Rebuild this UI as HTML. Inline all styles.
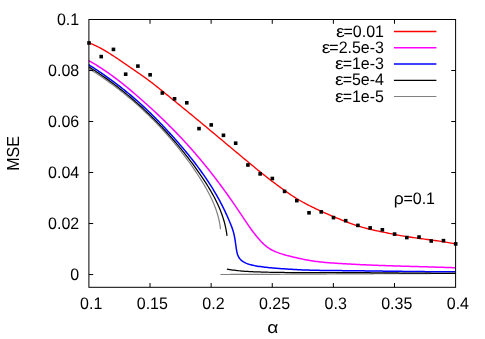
<!DOCTYPE html>
<html><head><meta charset="utf-8"><title>plot</title>
<style>
html,body{margin:0;padding:0;background:#fff;}
body{width:485px;height:339px;overflow:hidden;}
svg{display:block;will-change:transform;}
text{font-family:"Liberation Sans",sans-serif;font-size:16px;fill:#000;text-rendering:geometricPrecision;}
</style></head><body>
<svg width="485" height="339" viewBox="0 0 485 339">
<rect width="485" height="339" fill="#fff"/>
<g fill="none" stroke-linejoin="round">
<path d="M88.70,42.70 L90.10,43.25 L91.49,43.83 L92.88,44.43 L94.25,45.05 L95.61,45.69 L96.96,46.34 L98.31,47.02 L99.64,47.71 L100.97,48.42 L102.29,49.14 L103.60,49.88 L104.90,50.63 L106.20,51.40 L107.49,52.17 L108.77,52.96 L110.05,53.76 L111.32,54.56 L112.58,55.38 L113.84,56.20 L115.10,57.03 L116.35,57.86 L117.59,58.71 L118.84,59.55 L120.08,60.40 L121.32,61.25 L122.56,62.11 L123.80,62.96 L125.03,63.82 L126.27,64.67 L127.51,65.53 L128.75,66.38 L129.99,67.23 L131.23,68.08 L132.48,68.92 L133.72,69.77 L134.96,70.62 L136.20,71.47 L137.44,72.32 L138.68,73.18 L139.92,74.03 L141.15,74.90 L142.38,75.76 L143.60,76.63 L144.83,77.51 L146.04,78.40 L147.25,79.29 L148.46,80.18 L149.66,81.09 L150.86,82.00 L152.05,82.91 L153.24,83.83 L154.43,84.76 L155.61,85.68 L156.79,86.62 L157.97,87.55 L159.15,88.49 L160.32,89.43 L161.49,90.38 L162.67,91.32 L163.84,92.27 L165.00,93.22 L166.17,94.16 L167.34,95.11 L168.51,96.06 L169.68,97.01 L170.84,97.96 L172.01,98.91 L173.18,99.86 L174.34,100.81 L175.51,101.76 L176.68,102.71 L177.84,103.66 L179.01,104.61 L180.17,105.56 L181.34,106.51 L182.50,107.46 L183.67,108.41 L184.83,109.36 L186.00,110.32 L187.16,111.27 L188.32,112.22 L189.49,113.18 L190.65,114.13 L191.81,115.09 L192.97,116.04 L194.13,117.00 L195.29,117.96 L196.45,118.92 L197.61,119.87 L198.77,120.83 L199.93,121.79 L201.09,122.75 L202.25,123.71 L203.40,124.67 L204.56,125.63 L205.72,126.60 L206.87,127.56 L208.03,128.52 L209.19,129.48 L210.34,130.45 L211.50,131.41 L212.65,132.37 L213.81,133.34 L214.96,134.30 L216.12,135.26 L217.27,136.23 L218.42,137.19 L219.58,138.16 L220.73,139.12 L221.89,140.09 L223.04,141.05 L224.19,142.02 L225.35,142.98 L226.50,143.95 L227.65,144.91 L228.81,145.88 L229.96,146.85 L231.11,147.81 L232.27,148.78 L233.42,149.74 L234.58,150.71 L235.73,151.67 L236.88,152.63 L238.04,153.60 L239.19,154.56 L240.35,155.53 L241.50,156.49 L242.66,157.45 L243.81,158.42 L244.97,159.38 L246.13,160.34 L247.28,161.30 L248.44,162.26 L249.60,163.22 L250.76,164.18 L251.92,165.14 L253.08,166.10 L254.24,167.06 L255.40,168.01 L256.57,168.96 L257.73,169.91 L258.90,170.86 L260.07,171.81 L261.24,172.75 L262.42,173.69 L263.59,174.63 L264.77,175.56 L265.95,176.50 L267.13,177.42 L268.32,178.35 L269.51,179.27 L270.70,180.19 L271.90,181.10 L273.09,182.01 L274.29,182.91 L275.50,183.82 L276.70,184.72 L277.91,185.61 L279.12,186.50 L280.34,187.39 L281.56,188.28 L282.77,189.16 L284.00,190.04 L285.22,190.91 L286.45,191.78 L287.68,192.65 L288.92,193.50 L290.16,194.35 L291.41,195.19 L292.67,196.02 L293.93,196.84 L295.19,197.65 L296.47,198.45 L297.75,199.23 L299.05,200.00 L300.35,200.76 L301.65,201.50 L302.97,202.23 L304.29,202.95 L305.62,203.66 L306.95,204.36 L308.29,205.05 L309.63,205.73 L310.98,206.40 L312.33,207.07 L313.68,207.73 L315.04,208.38 L316.40,209.02 L317.76,209.66 L319.12,210.30 L320.49,210.93 L321.86,211.55 L323.23,212.17 L324.60,212.78 L325.98,213.39 L327.35,213.99 L328.73,214.59 L330.11,215.19 L331.50,215.78 L332.88,216.36 L334.27,216.94 L335.66,217.52 L337.05,218.09 L338.44,218.66 L339.84,219.23 L341.24,219.78 L342.63,220.34 L344.04,220.89 L345.44,221.43 L346.84,221.97 L348.25,222.50 L349.66,223.02 L351.08,223.53 L352.49,224.04 L353.91,224.53 L355.34,225.02 L356.77,225.49 L358.20,225.96 L359.63,226.41 L361.07,226.85 L362.51,227.28 L363.96,227.70 L365.41,228.11 L366.86,228.50 L368.32,228.88 L369.78,229.24 L371.24,229.60 L372.70,229.94 L374.17,230.26 L375.64,230.58 L377.11,230.90 L378.58,231.20 L380.06,231.50 L381.53,231.80 L383.01,232.10 L384.48,232.40 L385.96,232.69 L387.43,232.99 L388.91,233.29 L390.38,233.59 L391.86,233.89 L393.33,234.18 L394.81,234.47 L396.28,234.76 L397.76,235.04 L399.24,235.31 L400.72,235.58 L402.20,235.84 L403.68,236.09 L405.17,236.33 L406.65,236.57 L408.14,236.81 L409.62,237.03 L411.11,237.26 L412.60,237.48 L414.09,237.69 L415.58,237.90 L417.07,238.11 L418.56,238.31 L420.05,238.51 L421.54,238.72 L423.03,238.91 L424.53,239.11 L426.02,239.31 L427.51,239.51 L429.00,239.71 L430.49,239.91 L431.99,240.11 L433.48,240.31 L434.97,240.52 L436.46,240.73 L437.95,240.94 L439.44,241.15 L440.92,241.37 L442.41,241.60 L443.90,241.83 L445.38,242.06 L446.87,242.30 L448.35,242.55 L449.83,242.80 L451.32,243.07 L452.80,243.34 L454.27,243.61 L455.75,243.90" stroke="#ff0000" stroke-width="1.35"/>
<path d="M88.70,60.70 L90.02,61.43 L91.34,62.17 L92.65,62.92 L93.95,63.67 L95.25,64.44 L96.54,65.22 L97.82,66.01 L99.10,66.81 L100.37,67.62 L101.63,68.43 L102.89,69.26 L104.14,70.09 L105.38,70.93 L106.62,71.78 L107.85,72.64 L109.08,73.50 L110.31,74.37 L111.52,75.25 L112.74,76.14 L113.95,77.03 L115.15,77.93 L116.35,78.84 L117.54,79.75 L118.73,80.67 L119.92,81.59 L121.10,82.52 L122.28,83.45 L123.45,84.39 L124.62,85.34 L125.79,86.29 L126.95,87.24 L128.11,88.20 L129.27,89.16 L130.42,90.13 L131.57,91.10 L132.72,92.07 L133.86,93.04 L135.01,94.02 L136.15,95.00 L137.29,95.99 L138.42,96.98 L139.56,97.96 L140.69,98.96 L141.82,99.95 L142.95,100.94 L144.07,101.94 L145.20,102.94 L146.32,103.95 L147.43,104.95 L148.55,105.96 L149.67,106.97 L150.78,107.99 L151.89,109.00 L152.99,110.02 L154.10,111.04 L155.20,112.07 L156.30,113.09 L157.39,114.12 L158.49,115.16 L159.58,116.19 L160.67,117.23 L161.75,118.27 L162.84,119.31 L163.92,120.36 L164.99,121.41 L166.07,122.46 L167.14,123.51 L168.21,124.57 L169.28,125.63 L170.34,126.69 L171.40,127.76 L172.46,128.83 L173.51,129.90 L174.56,130.97 L175.61,132.05 L176.66,133.13 L177.70,134.22 L178.74,135.30 L179.77,136.40 L180.81,137.49 L181.84,138.59 L182.86,139.68 L183.89,140.79 L184.91,141.89 L185.92,143.00 L186.93,144.11 L187.94,145.23 L188.95,146.35 L189.95,147.47 L190.95,148.59 L191.95,149.72 L192.95,150.85 L193.94,151.98 L194.92,153.11 L195.91,154.25 L196.89,155.39 L197.86,156.54 L198.84,157.68 L199.81,158.83 L200.77,159.99 L201.74,161.14 L202.70,162.30 L203.66,163.46 L204.61,164.62 L205.56,165.79 L206.51,166.96 L207.45,168.13 L208.39,169.30 L209.33,170.48 L210.26,171.66 L211.19,172.84 L212.12,174.02 L213.04,175.21 L213.96,176.40 L214.87,177.59 L215.79,178.79 L216.70,179.98 L217.60,181.18 L218.51,182.38 L219.41,183.59 L220.30,184.79 L221.20,186.00 L222.09,187.21 L222.98,188.43 L223.86,189.64 L224.74,190.86 L225.62,192.08 L226.50,193.30 L227.37,194.52 L228.24,195.75 L229.11,196.98 L229.98,198.21 L230.84,199.44 L231.70,200.67 L232.56,201.90 L233.42,203.14 L234.27,204.38 L235.13,205.62 L235.98,206.86 L236.82,208.10 L237.67,209.34 L238.51,210.59 L239.36,211.84 L240.20,213.08 L241.04,214.33 L241.87,215.58 L242.71,216.84 L243.54,218.09 L244.38,219.34 L245.21,220.59 L246.05,221.84 L246.89,223.09 L247.73,224.34 L248.58,225.58 L249.44,226.81 L250.30,228.04 L251.17,229.27 L252.05,230.48 L252.95,231.69 L253.85,232.89 L254.76,234.08 L255.69,235.26 L256.64,236.43 L257.60,237.59 L258.58,238.73 L259.58,239.86 L260.60,240.98 L261.64,242.07 L262.71,243.14 L263.80,244.19 L264.92,245.19 L266.08,246.16 L267.26,247.08 L268.48,247.95 L269.74,248.77 L271.03,249.53 L272.36,250.25 L273.71,250.91 L275.09,251.53 L276.48,252.11 L277.89,252.65 L279.32,253.17 L280.75,253.65 L282.18,254.11 L283.62,254.54 L285.07,254.95 L286.52,255.35 L287.97,255.73 L289.43,256.10 L290.89,256.46 L292.35,256.80 L293.82,257.15 L295.28,257.49 L296.75,257.83 L298.21,258.16 L299.68,258.49 L301.15,258.82 L302.62,259.13 L304.09,259.44 L305.56,259.74 L307.04,260.02 L308.52,260.29 L310.00,260.55 L311.48,260.79 L312.97,261.01 L314.46,261.22 L315.95,261.42 L317.44,261.60 L318.94,261.78 L320.43,261.94 L321.93,262.09 L323.43,262.24 L324.92,262.38 L326.42,262.51 L327.92,262.64 L329.42,262.76 L330.92,262.88 L332.42,262.99 L333.92,263.10 L335.42,263.20 L336.92,263.30 L338.42,263.40 L339.92,263.49 L341.42,263.59 L342.92,263.68 L344.42,263.77 L345.92,263.86 L347.42,263.94 L348.92,264.03 L350.42,264.11 L351.92,264.19 L353.42,264.27 L354.92,264.35 L356.43,264.42 L357.93,264.50 L359.43,264.57 L360.93,264.64 L362.43,264.71 L363.93,264.78 L365.44,264.85 L366.94,264.92 L368.44,264.98 L369.94,265.04 L371.44,265.11 L372.95,265.17 L374.45,265.23 L375.95,265.28 L377.45,265.34 L378.96,265.40 L380.46,265.45 L381.96,265.51 L383.46,265.56 L384.97,265.61 L386.47,265.67 L387.97,265.72 L389.48,265.77 L390.98,265.82 L392.48,265.87 L393.98,265.91 L395.49,265.96 L396.99,266.01 L398.49,266.05 L400.00,266.10 L401.50,266.15 L403.00,266.19 L404.51,266.23 L406.01,266.28 L407.51,266.32 L409.02,266.36 L410.52,266.41 L412.02,266.45 L413.53,266.49 L415.03,266.54 L416.53,266.58 L418.03,266.62 L419.54,266.66 L421.04,266.70 L422.54,266.75 L424.05,266.79 L425.55,266.83 L427.05,266.87 L428.56,266.92 L430.06,266.96 L431.56,267.00 L433.06,267.04 L434.57,267.09 L436.07,267.13 L437.57,267.18 L439.07,267.22 L440.58,267.27 L442.08,267.31 L443.58,267.36 L445.08,267.40 L446.59,267.45 L448.09,267.50 L449.59,267.55 L451.09,267.60 L452.60,267.65 L454.10,267.70 L455.60,267.75" stroke="#ff00ff" stroke-width="1.5"/>
<path d="M88.70,64.70 L89.96,65.51 L91.23,66.32 L92.49,67.14 L93.74,67.96 L95.00,68.79 L96.25,69.62 L97.50,70.45 L98.75,71.29 L99.99,72.13 L101.23,72.98 L102.47,73.83 L103.71,74.69 L104.94,75.55 L106.17,76.41 L107.40,77.28 L108.62,78.15 L109.84,79.03 L111.06,79.91 L112.27,80.80 L113.48,81.69 L114.69,82.59 L115.89,83.49 L117.09,84.40 L118.29,85.31 L119.48,86.22 L120.67,87.14 L121.85,88.07 L123.03,89.00 L124.21,89.93 L125.38,90.87 L126.55,91.82 L127.71,92.77 L128.87,93.72 L130.03,94.68 L131.18,95.65 L132.32,96.62 L133.47,97.60 L134.60,98.58 L135.74,99.56 L136.87,100.56 L137.99,101.55 L139.11,102.55 L140.23,103.56 L141.34,104.57 L142.45,105.59 L143.55,106.61 L144.65,107.63 L145.74,108.66 L146.83,109.69 L147.92,110.73 L149.01,111.77 L150.09,112.82 L151.16,113.87 L152.23,114.92 L153.30,115.98 L154.37,117.04 L155.43,118.11 L156.49,119.18 L157.54,120.25 L158.59,121.32 L159.64,122.40 L160.68,123.49 L161.72,124.57 L162.76,125.66 L163.79,126.76 L164.82,127.85 L165.85,128.95 L166.87,130.06 L167.89,131.16 L168.91,132.27 L169.93,133.38 L170.94,134.49 L171.95,135.61 L172.96,136.73 L173.96,137.85 L174.96,138.97 L175.96,140.10 L176.95,141.23 L177.94,142.36 L178.93,143.50 L179.91,144.64 L180.89,145.78 L181.87,146.92 L182.84,148.07 L183.81,149.22 L184.78,150.37 L185.74,151.53 L186.70,152.69 L187.65,153.85 L188.60,155.01 L189.54,156.18 L190.48,157.36 L191.42,158.53 L192.35,159.71 L193.27,160.90 L194.20,162.08 L195.11,163.28 L196.02,164.47 L196.93,165.67 L197.83,166.87 L198.73,168.08 L199.62,169.29 L200.50,170.50 L201.38,171.72 L202.25,172.94 L203.12,174.17 L203.98,175.40 L204.84,176.64 L205.69,177.88 L206.53,179.12 L207.37,180.37 L208.20,181.62 L209.03,182.88 L209.85,184.14 L210.66,185.41 L211.46,186.68 L212.26,187.95 L213.04,189.23 L213.83,190.52 L214.60,191.81 L215.36,193.10 L216.12,194.40 L216.87,195.70 L217.61,197.01 L218.34,198.32 L219.07,199.64 L219.78,200.96 L220.48,202.29 L221.18,203.62 L221.87,204.96 L222.55,206.30 L223.22,207.64 L223.88,208.99 L224.53,210.35 L225.18,211.70 L225.81,213.07 L226.44,214.43 L227.06,215.80 L227.67,217.17 L228.28,218.54 L228.87,219.92 L229.46,221.31 L230.04,222.69 L230.61,224.09 L231.17,225.48 L231.71,226.89 L232.23,228.30 L232.72,229.72 L233.17,231.15 L233.58,232.60 L233.94,234.05 L234.27,235.52 L234.56,237.00 L234.82,238.48 L235.06,239.96 L235.28,241.45 L235.49,242.94 L235.70,244.42 L235.91,245.91 L236.12,247.39 L236.35,248.88 L236.60,250.36 L236.88,251.85 L237.21,253.33 L237.64,254.78 L238.19,256.17 L238.91,257.49 L239.79,258.71 L240.82,259.82 L241.96,260.81 L243.19,261.68 L244.49,262.44 L245.84,263.10 L247.23,263.67 L248.65,264.16 L250.10,264.59 L251.56,264.96 L253.03,265.30 L254.51,265.61 L255.99,265.89 L257.47,266.15 L258.96,266.39 L260.44,266.61 L261.93,266.82 L263.42,267.01 L264.91,267.19 L266.40,267.36 L267.89,267.52 L269.39,267.67 L270.88,267.81 L272.38,267.95 L273.87,268.08 L275.37,268.20 L276.87,268.32 L278.37,268.44 L279.87,268.55 L281.37,268.66 L282.87,268.76 L284.37,268.86 L285.87,268.96 L287.37,269.06 L288.87,269.16 L290.37,269.25 L291.87,269.34 L293.37,269.42 L294.87,269.51 L296.37,269.59 L297.87,269.66 L299.37,269.74 L300.87,269.81 L302.37,269.88 L303.87,269.94 L305.37,270.00 L306.87,270.05 L308.37,270.11 L309.87,270.16 L311.38,270.20 L312.88,270.24 L314.38,270.28 L315.88,270.31 L317.38,270.34 L318.88,270.37 L320.39,270.40 L321.89,270.42 L323.39,270.44 L324.89,270.46 L326.40,270.48 L327.90,270.50 L329.40,270.51 L330.90,270.52 L332.41,270.54 L333.91,270.55 L335.41,270.56 L336.91,270.57 L338.42,270.59 L339.92,270.60 L341.42,270.61 L342.92,270.63 L344.43,270.64 L345.93,270.65 L347.43,270.67 L348.93,270.69 L350.44,270.70 L351.94,270.72 L353.44,270.73 L354.94,270.75 L356.45,270.77 L357.95,270.79 L359.45,270.81 L360.95,270.82 L362.46,270.84 L363.96,270.86 L365.46,270.88 L366.96,270.90 L368.47,270.92 L369.97,270.94 L371.47,270.96 L372.97,270.98 L374.47,271.00 L375.98,271.02 L377.48,271.04 L378.98,271.06 L380.48,271.08 L381.99,271.11 L383.49,271.13 L384.99,271.15 L386.49,271.17 L387.99,271.19 L389.50,271.21 L391.00,271.23 L392.50,271.25 L394.00,271.27 L395.51,271.29 L397.01,271.31 L398.51,271.33 L400.01,271.35 L401.51,271.37 L403.02,271.39 L404.52,271.41 L406.02,271.43 L407.52,271.44 L409.02,271.46 L410.53,271.48 L412.03,271.50 L413.53,271.51 L415.03,271.53 L416.54,271.55 L418.04,271.56 L419.54,271.58 L421.04,271.59 L422.55,271.61 L424.05,271.62 L425.55,271.63 L427.05,271.65 L428.55,271.66 L430.06,271.67 L431.56,271.68 L433.06,271.69 L434.56,271.70 L436.07,271.71 L437.57,271.72 L439.07,271.72 L440.57,271.73 L442.08,271.74 L443.58,271.74 L445.08,271.74 L446.58,271.75 L448.09,271.75 L449.59,271.75 L451.09,271.75 L452.59,271.75 L454.10,271.75 L455.60,271.75" stroke="#0000ff" stroke-width="1.5"/>
<path d="M88.70,68.50 L89.98,69.29 L91.26,70.10 L92.53,70.90 L93.81,71.71 L95.07,72.53 L96.34,73.36 L97.60,74.19 L98.86,75.02 L100.11,75.86 L101.36,76.71 L102.60,77.56 L103.85,78.42 L105.09,79.28 L106.32,80.15 L107.55,81.03 L108.78,81.91 L110.00,82.79 L111.22,83.68 L112.44,84.58 L113.65,85.48 L114.86,86.39 L116.06,87.30 L117.27,88.22 L118.46,89.14 L119.66,90.07 L120.84,91.00 L122.03,91.94 L123.21,92.88 L124.39,93.83 L125.56,94.79 L126.73,95.74 L127.89,96.71 L129.05,97.68 L130.21,98.65 L131.36,99.63 L132.51,100.61 L133.65,101.60 L134.79,102.59 L135.93,103.59 L137.06,104.59 L138.19,105.60 L139.31,106.61 L140.43,107.63 L141.54,108.65 L142.65,109.68 L143.76,110.71 L144.86,111.75 L145.95,112.79 L147.05,113.83 L148.13,114.88 L149.22,115.93 L150.30,116.99 L151.37,118.05 L152.44,119.12 L153.50,120.19 L154.56,121.27 L155.62,122.35 L156.67,123.43 L157.72,124.52 L158.76,125.61 L159.80,126.71 L160.83,127.81 L161.86,128.91 L162.88,130.02 L163.90,131.14 L164.91,132.25 L165.92,133.37 L166.92,134.50 L167.92,135.63 L168.92,136.76 L169.91,137.90 L170.89,139.04 L171.87,140.18 L172.84,141.33 L173.81,142.49 L174.78,143.64 L175.74,144.80 L176.69,145.97 L177.64,147.14 L178.59,148.31 L179.53,149.49 L180.46,150.67 L181.39,151.86 L182.32,153.05 L183.24,154.24 L184.15,155.44 L185.06,156.65 L185.97,157.85 L186.87,159.06 L187.76,160.28 L188.65,161.50 L189.53,162.73 L190.41,163.96 L191.29,165.19 L192.16,166.43 L193.02,167.67 L193.88,168.92 L194.74,170.17 L195.58,171.43 L196.43,172.69 L197.27,173.96 L198.10,175.23 L198.93,176.51 L199.75,177.79 L200.57,179.07 L201.38,180.36 L202.18,181.66 L202.98,182.96 L203.76,184.27 L204.54,185.58 L205.30,186.89 L206.06,188.22 L206.81,189.54 L207.54,190.88 L208.26,192.21 L208.97,193.56 L209.66,194.91 L210.34,196.26 L211.00,197.63 L211.65,198.99 L212.29,200.37 L212.90,201.75 L213.50,203.13 L214.08,204.53 L214.64,205.93 L215.18,207.33 L215.70,208.74 L216.20,210.16 L216.68,211.59 L217.13,213.02 L217.56,214.46 L217.97,215.91 L218.36,217.36 L218.72,218.82 L219.06,220.29 L219.37,221.76 L219.65,223.25 L219.90,224.74 L220.13,226.23 L220.33,227.74 L220.50,229.25" stroke="#808080" stroke-width="1.2"/>
<path d="M220.40,274.50 L221.91,274.50 L223.42,274.49 L224.92,274.49 L226.43,274.49 L227.94,274.48 L229.45,274.48 L230.95,274.47 L232.46,274.47 L233.97,274.46 L235.48,274.46 L236.98,274.46 L238.49,274.45 L240.00,274.45 L241.51,274.44 L243.02,274.44 L244.52,274.43 L246.03,274.42 L247.54,274.42 L249.05,274.41 L250.55,274.41 L252.06,274.40 L253.57,274.40 L255.08,274.39 L256.58,274.38 L258.09,274.38 L259.60,274.37 L261.11,274.36 L262.62,274.36 L264.12,274.35 L265.63,274.34 L267.14,274.34 L268.65,274.33 L270.15,274.32 L271.66,274.32 L273.17,274.31 L274.68,274.30 L276.18,274.29 L277.69,274.29 L279.20,274.28 L280.71,274.27 L282.22,274.26 L283.72,274.26 L285.23,274.25 L286.74,274.24 L288.25,274.23 L289.75,274.23 L291.26,274.22 L292.77,274.21 L294.28,274.20 L295.78,274.19 L297.29,274.19 L298.80,274.18 L300.31,274.17 L301.82,274.16 L303.32,274.15 L304.83,274.14 L306.34,274.14 L307.85,274.13 L309.35,274.12 L310.86,274.11 L312.37,274.10 L313.88,274.09 L315.38,274.09 L316.89,274.08 L318.40,274.07 L319.91,274.06 L321.42,274.05 L322.92,274.04 L324.43,274.04 L325.94,274.03 L327.45,274.02 L328.95,274.01 L330.46,274.00 L331.97,273.99 L333.48,273.99 L334.98,273.98 L336.49,273.97 L338.00,273.96 L339.51,273.95 L341.02,273.94 L342.52,273.94 L344.03,273.93 L345.54,273.92 L347.05,273.91 L348.55,273.90 L350.06,273.90 L351.57,273.89 L353.08,273.88 L354.58,273.87 L356.09,273.86 L357.60,273.86 L359.11,273.85 L360.62,273.84 L362.12,273.83 L363.63,273.82 L365.14,273.82 L366.65,273.81 L368.15,273.80 L369.66,273.79 L371.17,273.79 L372.68,273.78 L374.18,273.77 L375.69,273.76 L377.20,273.76 L378.71,273.75 L380.22,273.74 L381.72,273.73 L383.23,273.73 L384.74,273.72 L386.25,273.71 L387.75,273.71 L389.26,273.70 L390.77,273.69 L392.28,273.68 L393.78,273.68 L395.29,273.67 L396.80,273.66 L398.31,273.66 L399.82,273.65 L401.32,273.64 L402.83,273.64 L404.34,273.63 L405.85,273.62 L407.35,273.62 L408.86,273.61 L410.37,273.61 L411.88,273.60 L413.38,273.59 L414.89,273.59 L416.40,273.58 L417.91,273.58 L419.42,273.57 L420.92,273.56 L422.43,273.56 L423.94,273.55 L425.45,273.55 L426.95,273.54 L428.46,273.54 L429.97,273.53 L431.48,273.52 L432.98,273.52 L434.49,273.51 L436.00,273.51 L437.51,273.50 L439.02,273.50 L440.52,273.49 L442.03,273.49 L443.54,273.49 L445.05,273.48 L446.55,273.48 L448.06,273.47 L449.57,273.47 L451.08,273.46 L452.58,273.46 L454.09,273.45 L455.60,273.45" stroke="#808080" stroke-width="1.2"/>
<path d="M88.70,66.75 L89.98,67.55 L91.25,68.36 L92.53,69.18 L93.79,70.00 L95.06,70.82 L96.32,71.65 L97.58,72.49 L98.83,73.33 L100.08,74.18 L101.33,75.03 L102.57,75.89 L103.81,76.76 L105.05,77.62 L106.28,78.50 L107.51,79.38 L108.73,80.26 L109.95,81.15 L111.17,82.05 L112.38,82.95 L113.59,83.86 L114.80,84.77 L116.00,85.68 L117.20,86.60 L118.39,87.53 L119.58,88.46 L120.77,89.39 L121.95,90.33 L123.13,91.28 L124.31,92.23 L125.48,93.18 L126.65,94.14 L127.81,95.11 L128.97,96.08 L130.12,97.05 L131.28,98.03 L132.43,99.01 L133.57,100.00 L134.71,100.99 L135.85,101.99 L136.98,102.99 L138.11,104.00 L139.23,105.01 L140.35,106.02 L141.47,107.04 L142.58,108.06 L143.69,109.09 L144.79,110.12 L145.90,111.16 L146.99,112.20 L148.08,113.24 L149.17,114.29 L150.26,115.34 L151.34,116.40 L152.41,117.46 L153.49,118.53 L154.55,119.59 L155.62,120.67 L156.68,121.74 L157.73,122.82 L158.78,123.91 L159.83,125.00 L160.87,126.09 L161.91,127.19 L162.95,128.28 L163.98,129.39 L165.01,130.49 L166.03,131.61 L167.05,132.72 L168.06,133.84 L169.07,134.96 L170.07,136.08 L171.08,137.21 L172.07,138.34 L173.06,139.48 L174.05,140.62 L175.04,141.76 L176.02,142.91 L176.99,144.06 L177.96,145.21 L178.93,146.37 L179.89,147.53 L180.85,148.69 L181.80,149.86 L182.75,151.03 L183.70,152.21 L184.64,153.39 L185.57,154.57 L186.50,155.76 L187.43,156.95 L188.35,158.15 L189.27,159.35 L190.18,160.55 L191.09,161.76 L191.99,162.97 L192.89,164.18 L193.79,165.40 L194.68,166.63 L195.56,167.85 L196.44,169.09 L197.32,170.32 L198.19,171.56 L199.06,172.81 L199.92,174.05 L200.78,175.31 L201.63,176.56 L202.48,177.83 L203.32,179.09 L204.16,180.36 L204.99,181.64 L205.81,182.91 L206.63,184.20 L207.44,185.49 L208.24,186.78 L209.03,188.08 L209.81,189.38 L210.58,190.69 L211.34,192.01 L212.09,193.33 L212.83,194.65 L213.55,195.98 L214.27,197.32 L214.97,198.66 L215.65,200.01 L216.33,201.36 L216.99,202.72 L217.63,204.08 L218.26,205.46 L218.87,206.83 L219.47,208.22 L220.05,209.61 L220.61,211.00 L221.15,212.41 L221.68,213.81 L222.18,215.23 L222.67,216.65 L223.14,218.08 L223.58,219.52 L224.01,220.96 L224.41,222.41 L224.80,223.87 L225.15,225.34 L225.49,226.81 L225.80,228.29 L226.09,229.77 L226.36,231.27 L226.60,232.77 L226.81,234.28 L227.00,235.80" stroke="#000" stroke-width="1.25"/>
<path d="M226.90,269.10 L228.38,269.36 L229.87,269.61 L231.36,269.83 L232.85,270.05 L234.34,270.24 L235.84,270.42 L237.33,270.59 L238.83,270.75 L240.33,270.89 L241.83,271.02 L243.33,271.14 L244.83,271.26 L246.33,271.36 L247.84,271.45 L249.34,271.54 L250.84,271.62 L252.35,271.69 L253.85,271.76 L255.36,271.82 L256.86,271.88 L258.37,271.94 L259.87,271.99 L261.38,272.04 L262.88,272.09 L264.39,272.13 L265.90,272.18 L267.40,272.21 L268.91,272.25 L270.41,272.28 L271.92,272.31 L273.42,272.34 L274.93,272.37 L276.43,272.39 L277.94,272.42 L279.44,272.44 L280.95,272.46 L282.45,272.47 L283.96,272.49 L285.46,272.50 L286.97,272.52 L288.48,272.53 L289.98,272.54 L291.49,272.55 L292.99,272.56 L294.50,272.57 L296.00,272.58 L297.51,272.58 L299.01,272.59 L300.52,272.59 L302.03,272.60 L303.53,272.60 L305.04,272.60 L306.54,272.60 L308.05,272.60 L309.55,272.61 L311.06,272.61 L312.56,272.61 L314.07,272.61 L315.58,272.60 L317.08,272.60 L318.59,272.60 L320.09,272.60 L321.60,272.60 L323.10,272.60 L324.61,272.60 L326.12,272.60 L327.62,272.60 L329.13,272.60 L330.63,272.60 L332.14,272.59 L333.64,272.59 L335.15,272.60 L336.66,272.60 L338.16,272.60 L339.67,272.60 L341.17,272.60 L342.68,272.61 L344.18,272.61 L345.69,272.61 L347.20,272.62 L348.70,272.62 L350.21,272.63 L351.71,272.63 L353.22,272.64 L354.72,272.65 L356.23,272.66 L357.74,272.66 L359.24,272.67 L360.75,272.68 L362.25,272.69 L363.76,272.70 L365.26,272.71 L366.77,272.72 L368.27,272.73 L369.78,272.74 L371.29,272.75 L372.79,272.76 L374.30,272.78 L375.80,272.79 L377.31,272.80 L378.81,272.81 L380.32,272.83 L381.83,272.84 L383.33,272.85 L384.84,272.86 L386.34,272.88 L387.85,272.89 L389.35,272.90 L390.86,272.92 L392.36,272.93 L393.87,272.94 L395.38,272.96 L396.88,272.97 L398.39,272.99 L399.89,273.00 L401.40,273.01 L402.90,273.03 L404.41,273.04 L405.91,273.05 L407.42,273.07 L408.93,273.08 L410.43,273.09 L411.94,273.11 L413.44,273.12 L414.95,273.13 L416.45,273.14 L417.96,273.16 L419.46,273.17 L420.97,273.18 L422.48,273.19 L423.98,273.20 L425.49,273.21 L426.99,273.22 L428.50,273.23 L430.00,273.24 L431.51,273.25 L433.02,273.26 L434.52,273.27 L436.03,273.28 L437.53,273.29 L439.04,273.30 L440.54,273.30 L442.05,273.31 L443.55,273.32 L445.06,273.32 L446.57,273.33 L448.07,273.33 L449.58,273.34 L451.08,273.34 L452.59,273.35 L454.09,273.35 L455.60,273.35" stroke="#000" stroke-width="1.25"/>
</g>
<g fill="#000">
<rect x="87.20" y="41.15" width="3.6" height="3.6"/>
<rect x="99.42" y="54.80" width="3.6" height="3.6"/>
<rect x="111.65" y="47.60" width="3.6" height="3.6"/>
<rect x="123.87" y="72.40" width="3.6" height="3.6"/>
<rect x="136.09" y="64.30" width="3.6" height="3.6"/>
<rect x="148.32" y="73.00" width="3.6" height="3.6"/>
<rect x="160.54" y="91.20" width="3.6" height="3.6"/>
<rect x="172.76" y="97.00" width="3.6" height="3.6"/>
<rect x="184.99" y="101.00" width="3.6" height="3.6"/>
<rect x="197.21" y="126.80" width="3.6" height="3.6"/>
<rect x="209.43" y="123.10" width="3.6" height="3.6"/>
<rect x="221.66" y="133.50" width="3.6" height="3.6"/>
<rect x="233.88" y="141.40" width="3.6" height="3.6"/>
<rect x="246.10" y="163.20" width="3.6" height="3.6"/>
<rect x="258.33" y="172.10" width="3.6" height="3.6"/>
<rect x="270.55" y="176.70" width="3.6" height="3.6"/>
<rect x="282.77" y="189.60" width="3.6" height="3.6"/>
<rect x="295.00" y="198.85" width="3.6" height="3.6"/>
<rect x="307.22" y="211.00" width="3.6" height="3.6"/>
<rect x="319.44" y="210.10" width="3.6" height="3.6"/>
<rect x="331.67" y="215.80" width="3.6" height="3.6"/>
<rect x="343.89" y="218.90" width="3.6" height="3.6"/>
<rect x="356.11" y="223.60" width="3.6" height="3.6"/>
<rect x="368.34" y="226.10" width="3.6" height="3.6"/>
<rect x="380.56" y="228.00" width="3.6" height="3.6"/>
<rect x="392.78" y="232.30" width="3.6" height="3.6"/>
<rect x="405.01" y="235.75" width="3.6" height="3.6"/>
<rect x="417.23" y="235.25" width="3.6" height="3.6"/>
<rect x="429.45" y="239.20" width="3.6" height="3.6"/>
<rect x="441.68" y="238.85" width="3.6" height="3.6"/>
<rect x="453.90" y="242.10" width="3.6" height="3.6"/>
</g>
<g stroke="#000" stroke-width="1" fill="none">
<rect x="88.90" y="19.50" width="366.70" height="267.80"/>
<path d="M150.02,287.30V283.00 M150.02,19.50V23.80 M211.13,287.30V283.00 M211.13,19.50V23.80 M272.25,287.30V283.00 M272.25,19.50V23.80 M333.37,287.30V283.00 M333.37,19.50V23.80 M394.48,287.30V283.00 M394.48,19.50V23.80 M88.90,274.55H93.20 M88.90,223.54H93.20 M455.60,223.54H451.30 M88.90,172.53H93.20 M455.60,172.53H451.30 M88.90,121.52H93.20 M455.60,121.52H451.30 M88.90,70.51H93.20 M455.60,70.51H451.30 "/>
</g>
<text transform="translate(79.20,280.25) scale(1.000,1.040)" text-anchor="end">0</text>
<text transform="translate(79.20,229.24) scale(1.000,1.040)" text-anchor="end">0.02</text>
<text transform="translate(79.20,178.23) scale(1.000,1.040)" text-anchor="end">0.04</text>
<text transform="translate(79.20,127.22) scale(1.000,1.040)" text-anchor="end">0.06</text>
<text transform="translate(79.20,76.21) scale(1.000,1.040)" text-anchor="end">0.08</text>
<text transform="translate(79.20,25.20) scale(1.000,1.040)" text-anchor="end">0.1</text>
<text transform="translate(91.20,309.10) scale(1.000,1.040)" text-anchor="middle">0.1</text>
<text transform="translate(152.32,309.10) scale(1.000,1.040)" text-anchor="middle">0.15</text>
<text transform="translate(213.43,309.10) scale(1.000,1.040)" text-anchor="middle">0.2</text>
<text transform="translate(274.55,309.10) scale(1.000,1.040)" text-anchor="middle">0.25</text>
<text transform="translate(335.67,309.10) scale(1.000,1.040)" text-anchor="middle">0.3</text>
<text transform="translate(396.78,309.10) scale(1.000,1.040)" text-anchor="middle">0.35</text>
<text transform="translate(457.90,309.10) scale(1.000,1.040)" text-anchor="middle">0.4</text>
<text transform="translate(272.75,333.10) scale(1.200,1.040)" text-anchor="middle">α</text>
<text transform="translate(19.20,153.40) rotate(-90) scale(1.000,1.090)" text-anchor="middle">MSE</text>
<text transform="translate(384.00,36.70) scale(1.000,1.040)" text-anchor="end">=0.01</text>
<text transform="translate(344.72,36.70) scale(1.220,1.040)" text-anchor="end">ε</text>
<path d="M393.9,31.50H436.4" stroke="#ff0000" stroke-width="1.5" fill="none"/>
<text transform="translate(384.00,52.95) scale(1.000,1.040)" text-anchor="end">=2.5e-3</text>
<text transform="translate(330.49,52.95) scale(1.220,1.040)" text-anchor="end">ε</text>
<path d="M393.9,47.75H436.4" stroke="#ff00ff" stroke-width="1.5" fill="none"/>
<text transform="translate(384.00,69.20) scale(1.000,1.040)" text-anchor="end">=1e-3</text>
<text transform="translate(343.83,69.20) scale(1.220,1.040)" text-anchor="end">ε</text>
<path d="M393.9,64.00H436.4" stroke="#0000ff" stroke-width="1.5" fill="none"/>
<text transform="translate(384.00,85.45) scale(1.000,1.040)" text-anchor="end">=5e-4</text>
<text transform="translate(343.83,85.45) scale(1.220,1.040)" text-anchor="end">ε</text>
<path d="M393.9,80.25H436.4" stroke="#000" stroke-width="1.25" fill="none"/>
<text transform="translate(384.00,101.70) scale(1.000,1.040)" text-anchor="end">=1e-5</text>
<text transform="translate(343.83,101.70) scale(1.220,1.040)" text-anchor="end">ε</text>
<path d="M393.9,96.50H436.4" stroke="#808080" stroke-width="1.2" fill="none"/>
<text transform="translate(403.40,203.60) scale(1.000,1.040)" text-anchor="start">=0.1</text>
<text transform="translate(403.80,203.60) scale(1.100,1.040)" text-anchor="end">ρ</text>
</svg></body></html>
